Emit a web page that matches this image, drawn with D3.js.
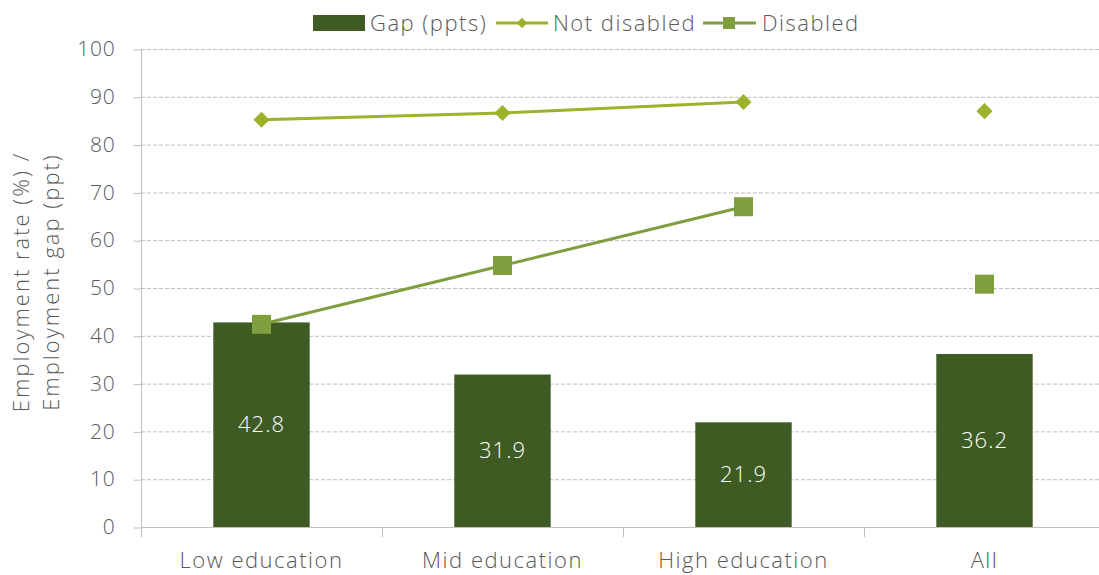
<!DOCTYPE html>
<html>
<head>
<meta charset="utf-8">
<script src="https://cdn.jsdelivr.net/npm/d3@7"></script>
<style>
  body { margin: 0; background: #fff; }
  svg text { font-family: "Open Sans", Roboto, sans-serif; font-weight: 300; fill: #595959; letter-spacing: 1.5px; }
</style>
</head>
<body>
<div id="chart"></div>
<script>
// chart data
const categories = ['Low education', 'Mid education', 'High education', 'All'];
const gapValues = [42.8, 31.9, 21.9, 36.2];
const notDisabled = [85.2, 86.6, 88.9, 87.0];
const disabled = [42.4, 54.7, 67.0, 50.8];
const yTicks = [0, 10, 20, 30, 40, 50, 60, 70, 80, 90, 100];

const width = 1099, height = 575;
const margin = {top: 49, right: -6, bottom: 48, left: 141};
const colors = {gap: '#3e5b24', notDis: '#9bb22b', dis: '#7f9f3f', grid: '#bfbfbf', axis: '#bfbfbf'};

const svg = d3.select('#chart').append('svg')
    .attr('width', width).attr('height', height);

const x = d3.scaleBand()
    .domain(categories)
    .range([margin.left, width - margin.right])
    .paddingInner(0.6).paddingOuter(0.3);
const xOuter = d3.scaleBand()
    .domain(categories)
    .range([margin.left, width - margin.right]);
const y = d3.scaleLinear()
    .domain([0, 100])
    .range([height - margin.bottom, margin.top]);

// gridlines
svg.append('g').selectAll('line')
    .data(yTicks.filter(d => d > 0))
    .join('line')
    .attr('x1', margin.left).attr('x2', width)
    .attr('y1', d => y(d) + 0.5).attr('y2', d => y(d) + 0.5)
    .attr('stroke', colors.grid).attr('stroke-dasharray', '4,2');

// y axis
const yAxis = svg.append('g')
    .attr('transform', `translate(${margin.left + 0.5},0)`)
    .call(d3.axisLeft(y).tickValues(yTicks).tickSize(8).tickPadding(18));
yAxis.selectAll('.tick line').attr('stroke', colors.axis).attr('transform', 'translate(0,0.5)');
yAxis.select('.domain').attr('stroke', colors.axis).attr('d', `M-0,${y(100)}V${y(0)}`);
yAxis.selectAll('.tick text').style('font-size', '21px').attr('fill', '#595959')
    .style('font-family', '"Open Sans", Roboto, sans-serif').style('letter-spacing', '0.8px');

// x axis
const xg = svg.append('g');
xg.append('line')
    .attr('x1', margin.left).attr('x2', width)
    .attr('y1', y(0) + 0.5).attr('y2', y(0) + 0.5)
    .attr('stroke', colors.axis);
xg.selectAll('line.tk')
    .data(categories)
    .join('line').attr('class', 'tk')
    .attr('x1', d => xOuter(d) + 0.5).attr('x2', d => xOuter(d) + 0.5)
    .attr('y1', y(0)).attr('y2', y(0) + 10)
    .attr('stroke', colors.axis);
xg.selectAll('text')
    .data(categories)
    .join('text')
    .attr('x', d => x(d) + x.bandwidth() / 2)
    .attr('y', y(0) + 41)
    .attr('text-anchor', 'middle')
    .style('font-size', '22px')
    .text(d => d);

// bars
const bars = svg.append('g');
bars.selectAll('rect')
    .data(gapValues)
    .join('rect')
    .attr('x', (d, i) => x(categories[i]))
    .attr('width', x.bandwidth())
    .attr('y', d => y(d))
    .attr('height', d => y(0) - y(d))
    .attr('fill', colors.gap);
bars.selectAll('text')
    .data(gapValues)
    .join('text')
    .attr('x', (d, i) => x(categories[i]) + x.bandwidth() / 2)
    .attr('y', d => (y(d) + y(0)) / 2)
    .attr('dy', '0.35em')
    .attr('text-anchor', 'middle')
    .style('font-size', '22px')
    .style('letter-spacing', '1px')
    .style('fill', '#fff')
    .text(d => d.toFixed(1));

const cx = i => x(categories[i]) + x.bandwidth() / 2;
const line = d3.line().x((d, i) => cx(i)).y(d => y(d));

// lines (first three categories joined, "All" stands alone)
svg.append('path')
    .attr('d', line(notDisabled.slice(0, 3)))
    .attr('fill', 'none').attr('stroke', colors.notDis).attr('stroke-width', 3);
svg.append('path')
    .attr('d', line(disabled.slice(0, 3)))
    .attr('fill', 'none').attr('stroke', colors.dis).attr('stroke-width', 3);

const diamond = d3.symbol().type(d3.symbolDiamond2).size(165);
svg.append('g').selectAll('path')
    .data(notDisabled)
    .join('path')
    .attr('transform', (d, i) => `translate(${cx(i)},${y(d)})`)
    .attr('d', diamond)
    .attr('fill', colors.notDis);

svg.append('g').selectAll('rect')
    .data(disabled)
    .join('rect')
    .attr('x', (d, i) => cx(i) - 9.5)
    .attr('y', d => y(d) - 9.5)
    .attr('width', 19).attr('height', 19)
    .attr('fill', colors.dis);

// y title
svg.append('text')
    .attr('transform', `translate(29,282) rotate(-90)`)
    .attr('text-anchor', 'middle')
    .style('font-size', '22px')
    .style('letter-spacing', '2px')
    .selectAll('tspan')
    .data(['Employment rate (%) /', 'Employment gap (ppt)'])
    .join('tspan')
    .attr('x', 0)
    .attr('dy', (d, i) => i === 0 ? 0 : 30)
    .text(d => d);

// legend
const lg = svg.append('g').attr('transform', 'translate(0,23)');
lg.append('rect').attr('x', 313).attr('y', -8).attr('width', 52).attr('height', 16).attr('fill', colors.gap);
lg.append('text').attr('x', 370).attr('dy', '0.35em').style('font-size', '22px').text('Gap (ppts)');
lg.append('line').attr('x1', 496).attr('x2', 548).attr('stroke', colors.notDis).attr('stroke-width', 3);
lg.append('path').attr('transform', 'translate(522,0)').attr('d', d3.symbol().type(d3.symbolDiamond2).size(70)).attr('fill', colors.notDis);
lg.append('text').attr('x', 553).attr('dy', '0.35em').style('font-size', '22px').text('Not disabled');
lg.append('line').attr('x1', 703).attr('x2', 756).attr('stroke', colors.dis).attr('stroke-width', 3);
lg.append('rect').attr('x', 723).attr('y', -6).attr('width', 12).attr('height', 12).attr('fill', colors.dis);
lg.append('text').attr('x', 762).attr('dy', '0.35em').style('font-size', '22px').text('Disabled');
</script>
</body>
</html>
